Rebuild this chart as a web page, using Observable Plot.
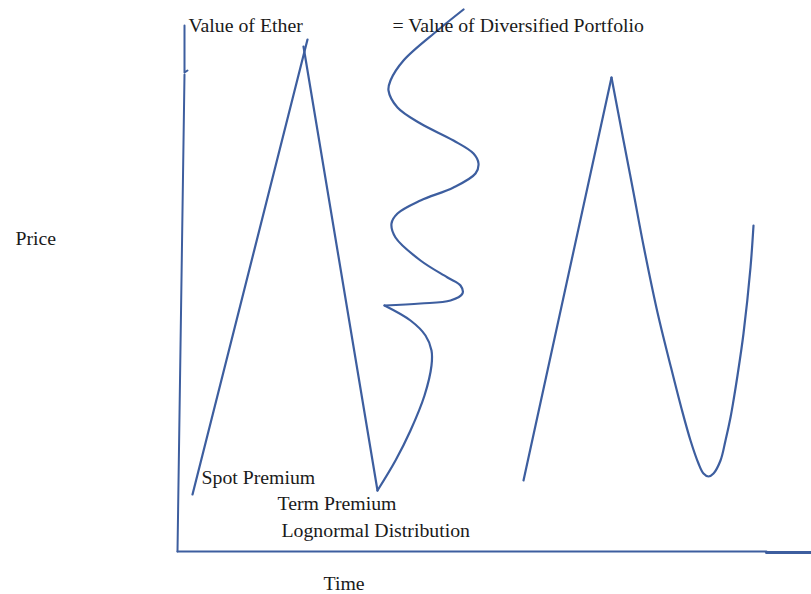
<!DOCTYPE html>
<html>
<head>
<meta charset="utf-8">
<script src="https://cdn.jsdelivr.net/npm/d3@7"></script>
<script src="https://cdn.jsdelivr.net/npm/@observablehq/plot@0.6"></script>
<style>
  html, body { margin: 0; padding: 0; background: #fff; overflow: hidden; }
  svg { display: block; }
</style>
</head>
<body>
<div id="chart"></div>
<script>
// Diagram values: Time (t) and Price (p)
const axisTimeT  = [0, 589];
const axisTimeP  = [0, 0];
const axisTailT  = [589, 634];
const axisTailP  = [-1, -1];
const axisPriceT = [0, 7];
const axisPriceP = [0, 477];
const axisTopT   = [10, 7, 7];
const axisTopP   = [481, 479, 526];

// spot premium rise and term premium fall
const spotT = [15, 130];
const spotP = [57, 512];
const termT = [126, 200];
const termP = [505, 61];

// lognormal distribution hump
const lognT = [200, 218, 233, 247, 254, 254, 248, 233, 207];
const lognP = [61, 91, 121, 156, 186, 201, 216, 231, 246];

// diversified portfolio wave
const waveT = [207, 243, 273, 285, 283, 270, 243, 218, 214, 220, 243, 276, 298, 301, 296, 276, 243, 220, 211, 213, 226, 260, 286];
const waveP = [246, 248, 251, 258, 266, 274, 291, 314, 328, 338, 351, 364, 378, 388, 398, 411, 428, 444, 461, 471, 491, 521, 542];

// second cycle
const riseT = [346, 434];
const riseP = [71, 474];
const fallT = [434, 446, 456, 466, 480, 493, 504, 513, 521, 526, 531, 536, 543, 548, 553, 556, 560, 566, 573, 576];
const fallP = [474, 411, 359, 306, 239, 186, 143, 111, 88, 78, 75, 78, 91, 111, 134, 151, 176, 218, 284, 326];

// labels
const labels  = ["Value of Ether", "= Value of Diversified Portfolio", "Price", "Spot Premium", "Term Premium", "Lognormal Distribution", "Time"];
const labelT  = [11, 215, -162, 24, 100, 104, 146];
const labelP  = [526, 526, 313, 74, 48, 21, -32];

const pts = (ts, ps) => ts.map((t, i) => ({t, p: ps[i]}));
const labelData = labels.map((s, i) => ({s, t: labelT[i], p: labelP[i]}));

const BLUE = "#3d5e9f";
const lineOpts = {x: "t", y: "p", stroke: BLUE, strokeWidth: 2.2};

const chart = Plot.plot({
  width: 811,
  height: 594,
  margin: 0,
  x: {domain: [-177, 634], axis: null},
  y: {domain: [-43, 551], axis: null},
  marks: [
    Plot.line(pts(axisTimeT, axisTimeP), {...lineOpts, strokeWidth: 2}),
    Plot.line(pts(axisTailT, axisTailP), {...lineOpts, strokeWidth: 3}),
    Plot.line(pts(axisPriceT, axisPriceP), {...lineOpts, strokeWidth: 2}),
    Plot.line(pts(axisTopT, axisTopP), {...lineOpts, strokeWidth: 2}),
    Plot.line(pts(spotT, spotP), lineOpts),
    Plot.line(pts(termT, termP), lineOpts),
    Plot.line(pts(lognT, lognP), {...lineOpts, curve: "catmull-rom"}),
    Plot.line(pts(waveT, waveP), {...lineOpts, curve: "catmull-rom"}),
    Plot.line(pts(riseT, riseP), lineOpts),
    Plot.line(pts(fallT, fallP), {...lineOpts, curve: "catmull-rom"}),
    Plot.text(labelData, {
      x: "t", y: "p", text: "s",
      textAnchor: "start", lineAnchor: "middle",
      fontSize: 19.8, fontFamily: "Liberation Serif", fill: "#1a1a1a"
    })
  ]
});
document.getElementById("chart").appendChild(chart);
</script>
</body>
</html>
